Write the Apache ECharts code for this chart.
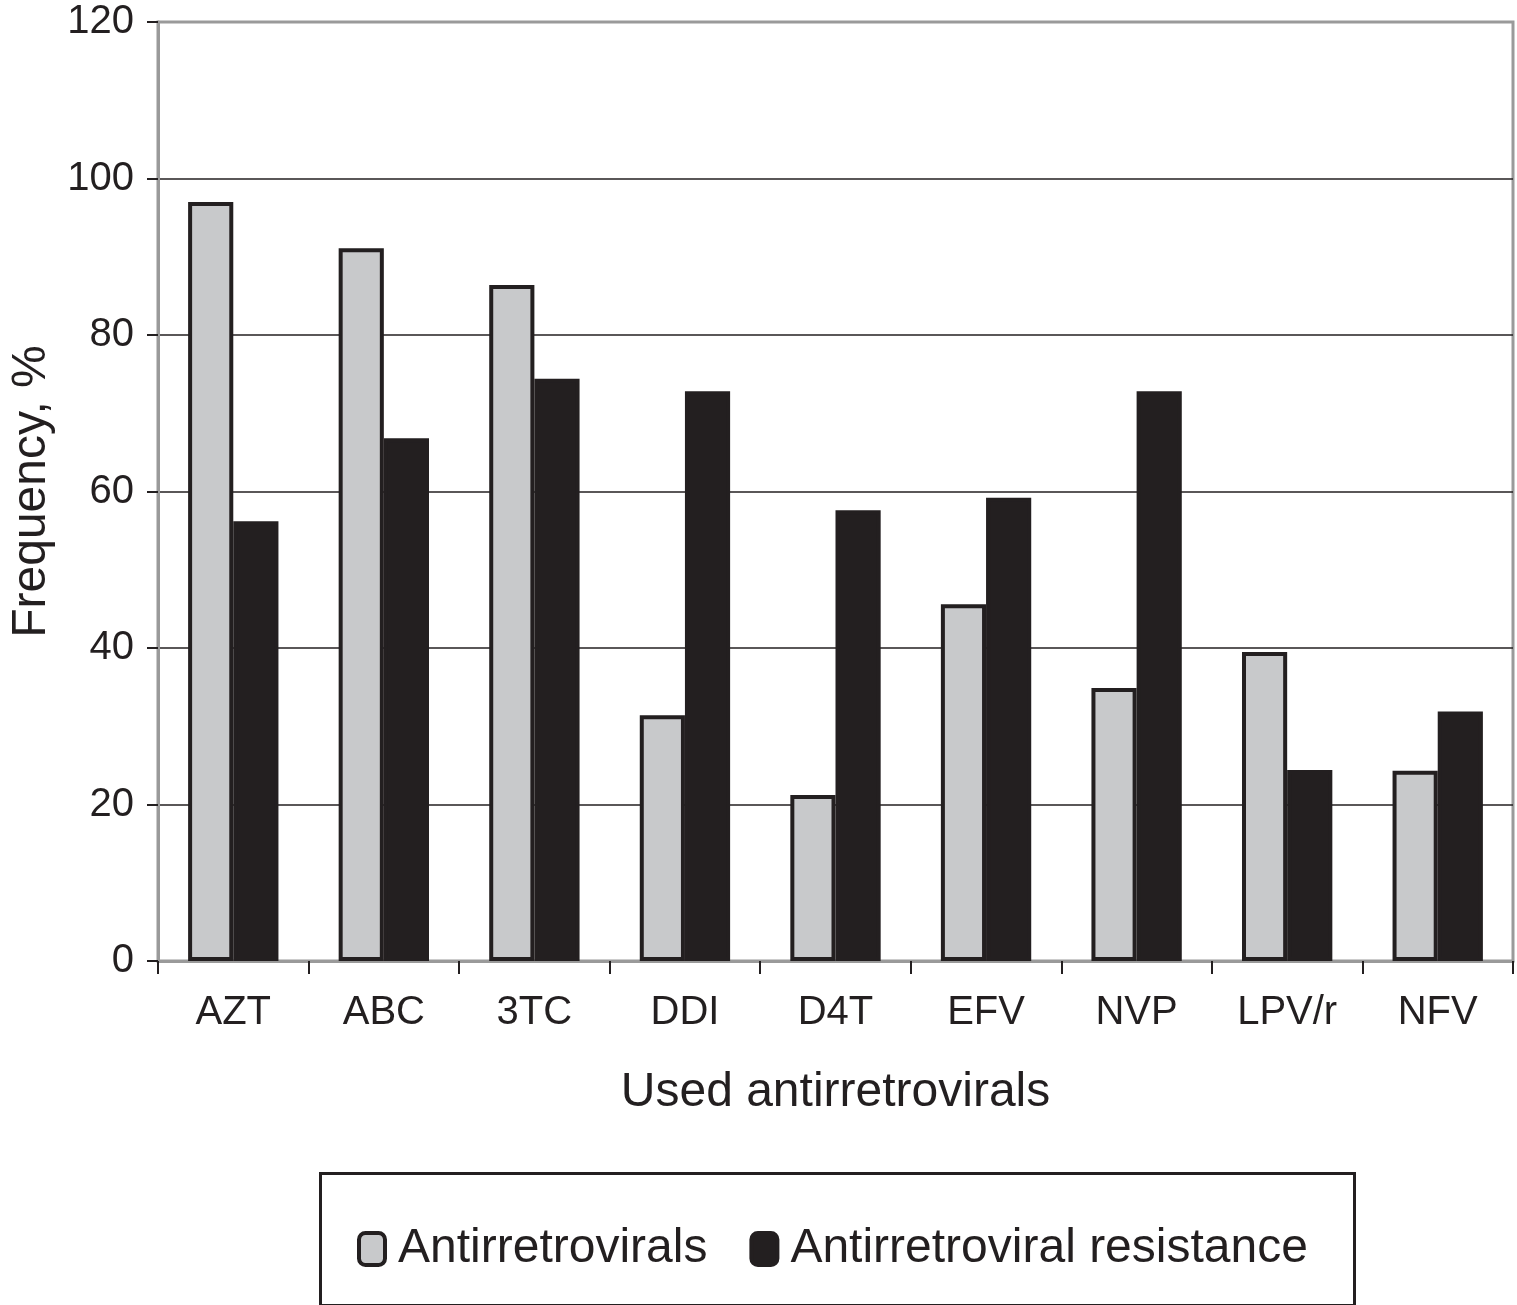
<!DOCTYPE html>
<html><head><meta charset="utf-8">
<script src="https://cdn.jsdelivr.net/npm/echarts@6/dist/echarts.min.js"></script>
<style>html,body{margin:0;padding:0;background:#fff}#c{width:1517px;height:1305px}</style>
</head><body><div id="c"></div>
<script>
const categories = ['AZT','ABC','3TC','DDI','D4T','EFV','NVP','LPV/r','NFV'];
const antiretrovirals = [97.0, 91.1, 86.4, 31.4, 21.2, 45.6, 34.9, 39.5, 24.3];
const resistance = [56.2, 66.8, 74.4, 72.8, 57.6, 59.2, 72.8, 24.4, 31.9];
const yTicks = [0, 20, 40, 60, 80, 100, 120];

const font = 'Liberation Sans, Arial, Helvetica, sans-serif';
const chart = echarts.init(document.getElementById('c'));
chart.setOption({
  animation: false,
  backgroundColor: '#fff',
  textStyle: {fontFamily: font},
  grid: {left: 154, right: 4, top: 22, bottom: 344, show: true, borderColor: '#9a9a9a', borderWidth: 3, backgroundColor: 'transparent'},
  legend: {
    left: 352, top: 1220,
    itemWidth: 26, itemHeight: 32, itemGap: 42,
    icon: 'roundRect',
    itemStyle: {borderWidth: 4},
    textStyle: {fontFamily: font, fontSize: 48, color: '#231f20', padding: [0,0,0,8]},
    data: ['Antirretrovirals', 'Antirretroviral resistance']
  },
  graphic: [{
    type: 'rect', left: 318, top: 1171,
    shape: {width: 1034, height: 132},
    style: {fill: 'none', stroke: '#231f20', lineWidth: 3}, z: 1
  }],
  xAxis: {
    type: 'category', data: categories,
    name: 'Used antirretrovirals', nameLocation: 'middle', nameGap: 108,
    nameTextStyle: {fontFamily: font, fontSize: 48, color: '#231f20'},
    axisLine: {lineStyle: {color: '#9a9a9a', width: 3}},
    axisTick: {show: true, length: 13, lineStyle: {color: '#231f20', width: 2}},
    axisLabel: {fontFamily: font, fontSize: 40, color: '#231f20', margin: 32},
    splitLine: {show: false}
  },
  yAxis: {
    type: 'value', min: 0, max: 120, interval: 20,
    name: 'Frequency, %', nameLocation: 'middle', nameGap: 102,
    nameTextStyle: {fontFamily: font, fontSize: 48, color: '#231f20'},
    axisLine: {show: true, lineStyle: {color: '#9a9a9a', width: 3}},
    axisTick: {show: true, length: 11, lineStyle: {color: '#231f20', width: 2}},
    axisLabel: {fontFamily: font, fontSize: 40, color: '#231f20', margin: 24,
      formatter: v => yTicks.includes(v) ? String(v) : ''},
    splitLine: {show: true, lineStyle: {color: ['#231f20','#231f20','#231f20','#231f20','#231f20','#231f20','#9a9a9a'], width: 1.5}}
  },
  series: [
    {name: 'Antirretrovirals', type: 'bar', data: antiretrovirals, barGap: '0%', barCategoryGap: '40%',
     itemStyle: {color: '#c8c9cb', borderColor: '#231f20', borderWidth: 4}},
    {name: 'Antirretroviral resistance', type: 'bar', data: resistance,
     itemStyle: {color: '#231f20', borderColor: '#231f20', borderWidth: 4}}
  ]
});
</script></body></html>
